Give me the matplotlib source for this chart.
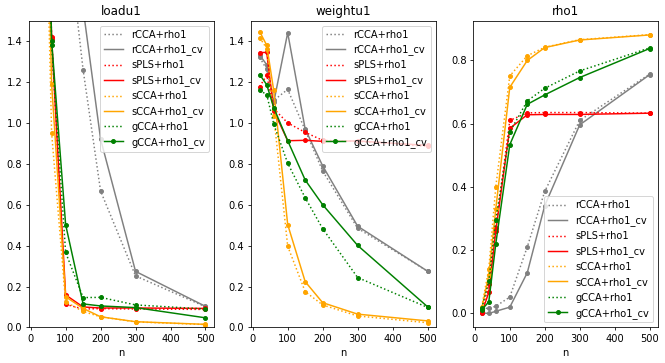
import numpy as np
import matplotlib
matplotlib.use('Agg')
import matplotlib.pyplot as plt

n = [20, 40, 60, 100, 150, 200, 300, 500]

metodos = ['rCCA', 'sPLS', 'sCCA', 'gCCA']
colores = ['gray', 'red', 'orange', 'green']

# loadu1
loadu1 = {
    'rCCA+rho1':    [6.0, 4.0, 3.0, 2.01, 1.26, 0.667, 0.252, 0.101],
    'rCCA+rho1_cv': [7.0, 5.0, 3.5, 2.5, 1.56, 0.921, 0.274, 0.103],
    'sPLS+rho1':    [4.0, 2.6, 1.42, 0.113, 0.090, 0.092, 0.090, 0.088],
    'sPLS+rho1_cv': [4.2, 2.7, 1.41, 0.159, 0.100, 0.095, 0.095, 0.093],
    'sCCA+rho1':    [3.5, 2.4, 0.95, 0.125, 0.078, 0.052, 0.027, 0.014],
    'sCCA+rho1_cv': [3.8, 2.6, 1.19, 0.150, 0.093, 0.052, 0.028, 0.015],
    'gCCA+rho1':    [4.0, 2.7, 1.38, 0.367, 0.146, 0.147, 0.110, 0.090],
    'gCCA+rho1_cv': [4.2, 2.8, 1.40, 0.503, 0.115, 0.105, 0.097, 0.047],
}

# weightu1
weightu1 = {
    'rCCA+rho1':    [1.320, 1.262, 1.110, 1.164, 0.965, 0.765, 0.485, 0.275],
    'rCCA+rho1_cv': [1.331, 1.285, 1.100, 1.441, 0.970, 0.790, 0.495, 0.275],
    'sPLS+rho1':    [1.178, 1.233, 1.070, 1.000, 0.954, 0.915, 0.910, 0.885],
    'sPLS+rho1_cv': [1.344, 1.345, 1.060, 0.913, 0.915, 0.910, 0.912, 0.890],
    'sCCA+rho1':    [1.417, 1.364, 1.036, 0.397, 0.175, 0.110, 0.056, 0.023],
    'sCCA+rho1_cv': [1.446, 1.380, 1.159, 0.503, 0.224, 0.121, 0.065, 0.032],
    'gCCA+rho1':    [1.159, 1.139, 0.995, 0.803, 0.634, 0.483, 0.244, 0.098],
    'gCCA+rho1_cv': [1.236, 1.187, 1.075, 0.913, 0.721, 0.600, 0.401, 0.101],
}

# rho1
rho1 = {
    'rCCA+rho1':    [0.013, 0.015, 0.021, 0.050, 0.209, 0.385, 0.610, 0.757],
    'rCCA+rho1_cv': [0.000, -0.002, 0.005, 0.018, 0.127, 0.340, 0.596, 0.755],
    'sPLS+rho1':    [0.005, 0.090, 0.270, 0.610, 0.634, 0.635, 0.635, 0.633],
    'sPLS+rho1_cv': [0.000, 0.065, 0.260, 0.585, 0.628, 0.629, 0.629, 0.633],
    'sCCA+rho1':    [0.020, 0.140, 0.400, 0.751, 0.815, 0.842, 0.866, 0.882],
    'sCCA+rho1_cv': [0.015, 0.120, 0.330, 0.715, 0.800, 0.841, 0.865, 0.881],
    'gCCA+rho1':    [0.015, 0.100, 0.295, 0.573, 0.672, 0.712, 0.767, 0.840],
    'gCCA+rho1_cv': [0.010, 0.035, 0.219, 0.533, 0.661, 0.691, 0.746, 0.838],
}

fig, axes = plt.subplots(1, 3, figsize=(665 / 71, 363 / 71), dpi=71)
paneles = [('loadu1', loadu1), ('weightu1', weightu1), ('rho1', rho1)]

for ax, (titulo, datos) in zip(axes, paneles):
    for metodo, color in zip(metodos, colores):
        for sufijo, estilo in [('+rho1', ':'), ('+rho1_cv', '-')]:
            nombre = metodo + sufijo
            y = datos[nombre]
            if nombre == 'gCCA+rho1_cv':
                ax.plot(n, y, estilo, color=color, marker='o', ms=4, label=nombre)
            else:
                ax.plot(n, y, estilo, color=color, label=nombre)
                ax.plot(n, y, 'o', color=color, ms=4)
    ax.set_title(titulo)
    ax.set_xlabel('n')
    ax.set_xticks([0, 100, 200, 300, 400, 500])
    ax.set_xlim(-4, 524)

axes[0].set_ylim(0, 1.5)
axes[1].set_ylim(0, 1.5)
axes[0].legend(loc='upper right')
axes[1].legend(loc='upper right')
axes[2].legend(loc='lower right')

plt.subplots_adjust(left=0.044, right=0.9895, bottom=0.098, top=0.943, wspace=0.203)
plt.savefig('out.png')
